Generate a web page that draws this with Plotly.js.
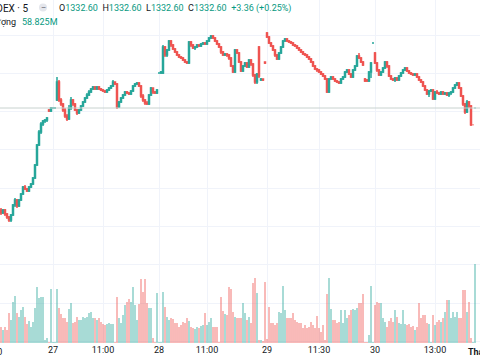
<!DOCTYPE html>
<html>
<head>
<meta charset="utf-8">
<script src="https://cdn.plot.ly/plotly-3.0.1.min.js"></script>
<style>html,body{margin:0;padding:0;background:#fff;}#chart{width:480px;height:360px;}</style>
</head>
<body>
<div id="chart"></div>
<script>
// 5-minute VNINDEX candles (index order)
const open = [
1312.2,1311.6,1312.2,1311.4,1310.8,1310.2,1311.2,1313.2,1314.2,1313.0,
1314.2,1315.4,1316.8,1316.4,1316.0,1316.8,1317.4,1318.6,1321.2,1325.2,
1327.8,1329.4,1330.0,1330.2,1332.2,1332.0,1332.6,1332.6,1334.2,1337.8,
1334.2,1333.4,1332.2,1331.0,1330.4,1332.6,1334.2,1333.4,1332.2,1331.6,
1332.2,1333.0,1333.8,1334.6,1335.2,1335.8,1336.4,1336.8,1336.4,1336.8,
1336.4,1336.2,1336.0,1335.8,1336.2,1336.6,1337.0,1337.8,1337.4,1332.8,
1333.8,1334.6,1335.2,1335.8,1335.6,1335.4,1336.0,1337.0,1337.4,1337.6,
1337.0,1335.0,1334.2,1333.6,1333.4,1335.2,1336.6,1335.8,1335.6,1339.6,
1339.6,1339.6,1344.8,1343.2,1344.2,1346.0,1345.2,1344.4,1343.8,1343.2,
1342.8,1342.6,1342.2,1341.8,1341.6,1345.8,1345.2,1344.6,1344.8,1345.2,
1345.0,1345.4,1345.6,1345.4,1346.0,1346.6,1347.0,1346.6,1346.0,1345.4,
1344.8,1343.8,1343.2,1343.4,1343.2,1342.6,1341.0,1339.8,1344.2,1343.6,
1341.8,1340.0,1341.0,1341.6,1340.8,1342.2,1341.4,1339.2,1337.8,1344.8,
1338.2,1338.4,1341.8,1347.6,1346.8,1345.6,1345.0,1344.2,1343.2,1342.4,
1343.6,1344.8,1346.0,1346.4,1346.0,1345.8,1345.6,1345.2,1345.0,1344.6,
1344.2,1343.8,1343.4,1343.2,1342.8,1342.4,1341.8,1341.0,1340.4,1340.2,
1339.8,1339.4,1339.0,1338.4,1335.8,1338.4,1338.8,1338.4,1338.0,1337.8,
1337.6,1338.4,1338.8,1339.8,1340.2,1339.4,1338.8,1340.2,1341.0,1343.0,
1342.6,1341.8,1338.4,1338.2,1338.0,1339.8,1345.6,1343.6,1341.6,1340.2,
1339.2,1339.8,1340.6,1341.8,1341.0,1339.0,1338.4,1338.2,1338.6,1338.2,
1339.0,1339.6,1340.2,1340.6,1340.0,1339.6,1339.4,1339.2,1339.4,1338.8,
1338.2,1337.8,1337.0,1336.2,1335.4,1336.0,1336.2,1334.4,1335.8,1335.6,
1335.4,1335.8,1335.4,1335.6,1335.2,1335.6,1335.8,1336.6,1337.2,1337.6,
1336.6,1335.0,1333.4,1331.8,1333.8,1333.0,1329.24,1332.6];
const high = [
1312.6,1312.4,1312.4,1311.6,1311.0,1311.4,1313.4,1314.6,1314.4,1314.4,
1315.6,1317.0,1317.2,1316.6,1317.0,1317.6,1318.8,1321.4,1325.4,1328.2,
1329.8,1330.2,1330.4,1330.8,1332.4,1332.8,1332.8,1332.8,1338.8,1338.2,
1334.6,1333.6,1332.6,1331.4,1333.2,1334.8,1334.4,1333.6,1332.4,1332.4,
1333.2,1334.0,1334.8,1335.6,1336.2,1336.6,1337.0,1337.0,1337.0,1337.0,
1336.6,1336.4,1336.2,1336.4,1336.8,1337.2,1338.2,1337.8,1337.6,1334.0,
1334.8,1335.4,1336.0,1336.0,1335.8,1336.2,1337.2,1337.6,1337.8,1337.8,
1337.2,1335.4,1334.4,1334.0,1335.4,1336.8,1336.6,1336.0,1336.4,1339.8,
1340.0,1345.2,1345.0,1344.4,1346.2,1346.2,1345.4,1344.6,1344.0,1343.4,
1343.0,1342.8,1342.4,1342.0,1346.0,1346.0,1345.4,1345.0,1345.4,1345.4,
1345.6,1345.8,1345.8,1346.2,1346.8,1347.2,1347.2,1346.8,1346.2,1345.6,
1345.0,1344.0,1343.6,1343.6,1343.4,1342.8,1341.2,1344.4,1344.4,1343.8,
1342.0,1341.2,1341.8,1341.8,1342.4,1342.4,1341.6,1339.4,1339.6,1345.0,
1338.6,1338.4,1341.8,1347.8,1347.0,1345.8,1345.2,1344.4,1343.4,1343.8,
1345.0,1346.2,1346.6,1346.6,1346.2,1346.0,1345.8,1345.4,1345.2,1344.8,
1344.4,1344.0,1343.6,1343.4,1343.0,1342.6,1342.0,1341.2,1340.6,1340.4,
1340.0,1339.6,1339.2,1338.6,1338.6,1339.0,1339.0,1338.6,1338.2,1338.0,
1338.6,1339.0,1340.0,1340.4,1340.4,1339.6,1340.4,1341.2,1343.2,1343.6,
1342.8,1342.0,1338.6,1338.4,1340.0,1341.8,1345.8,1343.8,1341.8,1340.4,
1340.0,1340.8,1342.0,1342.0,1341.2,1339.2,1338.6,1338.8,1338.8,1339.2,
1339.8,1340.4,1340.8,1340.8,1340.2,1339.8,1339.6,1339.6,1339.6,1339.0,
1338.4,1338.0,1337.2,1336.4,1336.2,1336.4,1336.4,1336.0,1336.2,1335.8,
1336.0,1336.0,1335.8,1335.8,1335.8,1336.0,1336.8,1337.4,1337.8,1337.8,
1336.8,1335.2,1333.6,1334.2,1334.0,1333.2,1329.24,1332.6];
const low = [
1311.2,1311.4,1311.0,1310.4,1309.8,1309.8,1311.0,1312.8,1312.6,1312.8,
1314.0,1315.2,1316.2,1315.8,1315.8,1316.6,1317.2,1318.4,1321.0,1325.0,
1327.4,1329.0,1329.6,1329.8,1331.8,1331.8,1332.4,1332.4,1334.0,1333.8,
1333.0,1331.8,1330.6,1330.0,1330.2,1332.2,1333.0,1332.0,1331.2,1331.4,
1332.0,1332.8,1333.6,1334.4,1335.0,1335.6,1336.2,1336.2,1336.2,1336.2,
1336.0,1335.8,1335.6,1335.6,1336.0,1336.4,1336.8,1337.2,1332.4,1332.6,
1333.6,1334.4,1335.0,1335.4,1335.2,1335.2,1335.8,1336.8,1337.2,1336.8,
1334.6,1333.8,1333.2,1333.2,1333.2,1335.0,1335.4,1335.4,1335.4,1339.4,
1339.4,1339.4,1342.8,1342.8,1344.0,1344.8,1344.2,1343.6,1343.0,1342.6,
1342.4,1342.0,1341.6,1341.4,1341.4,1344.8,1344.4,1344.2,1344.6,1344.8,
1344.8,1345.2,1345.2,1345.2,1345.8,1346.4,1346.4,1345.8,1345.2,1344.6,
1343.4,1343.0,1343.0,1342.8,1342.2,1340.8,1339.6,1339.6,1343.4,1341.6,
1339.8,1339.8,1340.8,1340.6,1340.6,1341.0,1338.8,1337.4,1337.4,1338.6,
1338.0,1338.0,1341.4,1346.6,1345.4,1344.8,1344.0,1342.8,1342.2,1342.2,
1343.4,1344.6,1345.8,1345.8,1345.6,1345.4,1345.0,1344.8,1344.4,1344.0,
1343.6,1343.2,1343.0,1342.6,1342.2,1341.6,1340.8,1340.2,1339.8,1339.6,
1339.2,1338.8,1338.2,1335.6,1335.6,1338.2,1338.2,1337.8,1337.6,1337.4,
1337.4,1338.2,1338.6,1339.6,1339.2,1338.6,1338.6,1340.0,1340.8,1342.4,
1341.6,1341.0,1337.8,1337.8,1337.8,1338.6,1345.4,1341.4,1339.8,1339.0,
1339.0,1339.6,1340.4,1340.6,1338.8,1338.2,1338.0,1337.8,1338.0,1338.0,
1338.8,1339.4,1340.0,1339.8,1339.4,1339.2,1339.0,1339.0,1338.6,1338.0,
1337.6,1336.8,1336.0,1335.2,1334.8,1335.8,1334.2,1334.2,1335.4,1335.2,
1335.2,1335.2,1335.2,1335.0,1334.8,1335.2,1335.6,1336.4,1337.0,1336.4,
1334.8,1333.0,1331.4,1331.6,1332.6,1329.0,1329.24,1332.6];
const close = [
1311.6,1312.2,1311.4,1310.8,1310.2,1311.2,1313.2,1314.2,1313.0,1314.2,
1315.4,1316.8,1316.4,1316.0,1316.8,1317.4,1318.6,1321.2,1325.2,1327.8,
1329.4,1330.0,1330.2,1330.6,1332.0,1332.6,1332.6,1332.6,1337.8,1334.2,
1333.4,1332.2,1331.0,1330.4,1332.6,1334.2,1333.4,1332.2,1331.6,1332.2,
1333.0,1333.8,1334.6,1335.2,1335.8,1336.4,1336.8,1336.4,1336.8,1336.4,
1336.2,1336.0,1335.8,1336.2,1336.6,1337.0,1337.8,1337.4,1332.8,1333.8,
1334.6,1335.2,1335.8,1335.6,1335.4,1336.0,1337.0,1337.4,1337.6,1337.0,
1335.0,1334.2,1333.6,1333.4,1335.2,1336.6,1335.8,1335.6,1336.2,1339.6,
1339.8,1344.8,1343.2,1344.2,1346.0,1345.2,1344.4,1343.8,1343.2,1342.8,
1342.6,1342.2,1341.8,1341.6,1345.8,1345.2,1344.6,1344.8,1345.2,1345.0,
1345.4,1345.6,1345.4,1346.0,1346.6,1347.0,1346.6,1346.0,1345.4,1344.8,
1343.8,1343.2,1343.4,1343.2,1342.6,1341.0,1339.8,1344.2,1343.6,1341.8,
1340.0,1341.0,1341.6,1340.8,1342.2,1341.4,1339.2,1337.8,1339.4,1339.0,
1338.4,1338.2,1341.6,1346.8,1345.6,1345.0,1344.2,1343.2,1342.4,1343.6,
1344.8,1346.0,1346.4,1346.0,1345.8,1345.6,1345.2,1345.0,1344.6,1344.2,
1343.8,1343.4,1343.2,1342.8,1342.4,1341.8,1341.0,1340.4,1340.2,1339.8,
1339.4,1339.0,1338.4,1335.8,1338.4,1338.8,1338.4,1338.0,1337.8,1337.6,
1338.4,1338.8,1339.8,1340.2,1339.4,1338.8,1340.2,1341.0,1343.0,1342.6,
1341.8,1341.2,1338.0,1338.0,1339.8,1341.6,1345.6,1341.6,1340.2,1339.2,
1339.8,1340.6,1341.8,1341.0,1339.0,1338.4,1338.2,1338.6,1338.2,1339.0,
1339.6,1340.2,1340.6,1340.0,1339.6,1339.4,1339.2,1339.4,1338.8,1338.2,
1337.8,1337.0,1336.2,1335.4,1336.0,1336.2,1334.4,1335.8,1335.6,1335.4,
1335.8,1335.4,1335.6,1335.2,1335.6,1335.8,1336.6,1337.2,1337.6,1336.6,
1335.0,1333.4,1331.8,1333.8,1333.0,1329.24,1329.24,1332.6];
// volume in millions of shares
const volume = [
11.9,9.7,11.9,9.7,22.3,17.1,30.5,35.0,22.3,19.4,
24.6,26.8,19.4,14.2,16.4,11.9,15.6,26.1,41.7,33.5,
34.3,34.3,2.2,3.7,0.7,40.2,0.7,0.7,40.2,26.1,
21.6,18.6,18.6,15.6,25.3,29.8,14.9,15.6,19.4,17.1,
17.1,19.4,18.6,19.4,22.3,23.1,18.6,18.6,17.1,18.6,
15.6,14.2,13.4,14.2,14.9,14.2,14.2,0.7,34.3,18.6,
14.9,20.9,28.3,30.5,32.8,30.5,41.7,28.3,17.1,29.0,
47.7,38.0,47.7,29.8,26.1,26.1,3.7,0.7,37.2,0.7,
0.7,38.0,26.8,19.4,17.1,18.6,17.9,14.9,14.9,11.9,
13.4,15.6,14.9,18.6,16.4,11.9,11.2,10.4,11.9,11.2,
12.7,13.4,22.3,13.4,15.6,18.6,11.9,11.9,11.9,0.7,
34.3,23.8,21.6,20.9,41.7,40.2,23.1,19.4,18.6,18.6,
18.6,29.8,22.3,17.1,19.4,14.9,44.7,48.4,37.2,2.2,
2.2,1.5,45.4,3.0,26.8,14.9,14.9,13.4,14.9,23.1,
22.3,42.5,24.6,18.6,18.6,18.6,22.3,17.1,15.6,14.9,
14.9,11.2,13.4,11.2,11.9,15.6,13.4,11.2,20.1,11.2,
8.2,13.4,2.2,36.5,48.4,25.3,17.1,17.1,14.9,15.6,
24.6,14.9,24.6,18.6,20.9,24.6,25.3,24.6,26.1,29.8,
29.8,36.5,0.7,0.7,6.0,42.5,0.7,28.3,30.5,29.8,
29.8,18.6,15.6,11.9,16.4,18.6,15.6,24.6,19.4,14.9,
14.2,24.6,14.2,13.4,14.2,11.9,12.7,9.7,11.9,29.8,
18.6,20.9,20.9,14.9,14.2,0.7,20.9,13.4,15.6,17.1,
15.6,18.6,23.1,32.0,32.0,18.6,23.1,19.4,23.1,18.6,
18.6,39.5,39.5,23.1,30.5,3.7,0.7,58.825];
// x-axis labels and the bar index they sit on
const tickIdx  = [26, 51, 79, 103, 133, 159, 187, 217];
const tickText = ["27", "11:00", "28", "11:00", "29", "11:30", "30", "13:00"];

const N = close.length;
const idx = Array.from({length: N}, (_, i) => i);
const UP = "#26a69a", DOWN = "#ef5350";
const volColors = idx.map(i => close[i] >= open[i] ? "rgba(38,166,154,0.5)" : "rgba(239,83,80,0.5)");
const last = N - 1;
const prevClose = close[last - 1];
const chg = close[last] - prevClose;
const pct = chg / prevClose * 100;
const teal = "#089981";
const dark = "#131722";
const f = v => v.toFixed(2);
const ohlcText =
  `<span style="color:${dark}">O</span><span style="color:${teal}">${f(open[last])}</span>  ` +
  `<span style="color:${dark}">H</span><span style="color:${teal}">${f(high[last])}</span>  ` +
  `<span style="color:${dark}">L</span><span style="color:${teal}">${f(low[last])}</span>  ` +
  `<span style="color:${dark}">C</span><span style="color:${teal}">${f(close[last])}</span>  ` +
  `<span style="color:${teal}">+${f(chg)} (+${pct.toFixed(2)}%)</span>`;

const PH = 343; // plot height in px for paper conversions
const py = p => 1 - p / PH;
const px = p => p / 480;

const traces = [
  {type: "bar", x: idx, y: volume, yaxis: "y2", marker: {color: volColors, line: {width: 0}},
   hoverinfo: "skip"},
  {type: "candlestick", x: idx, open: open, high: high, low: low, close: close,
   increasing: {line: {color: UP, width: 1.5}, fillcolor: UP},
   decreasing: {line: {color: DOWN, width: 1.5}, fillcolor: DOWN},
   whiskerwidth: 0, hoverinfo: "skip"}
];

const font = "Roboto, 'Liberation Sans', sans-serif";
const layout = {
  width: 480, height: 360,
  margin: {l: 0, r: 0, t: 0, b: 17},
  paper_bgcolor: "#ffffff", plot_bgcolor: "#ffffff",
  showlegend: false, bargap: 0.2, hovermode: false,
  font: {family: font, color: dark, size: 9},
  xaxis: {range: [-0.5, 239.5], tickmode: "array", tickvals: tickIdx, ticktext: tickText,
          showgrid: true, gridcolor: "#f0f3fa", zeroline: false, showline: false, ticks: "",
          tickfont: {size: 9, color: dark}, rangeslider: {visible: false}, fixedrange: true},
  yaxis: {range: [1285.6, 1354.2], tick0: 1347.2, dtick: 7.66, showgrid: true, gridcolor: "#f0f3fa",
          showticklabels: false, zeroline: false, showline: false, ticks: "", fixedrange: true},
  yaxis2: {overlaying: "y", range: [0, 255.4], showgrid: false, showticklabels: false,
           zeroline: false, showline: false, fixedrange: true},
  shapes: [
    {type: "line", xref: "paper", x0: 0, x1: 1, yref: "y", y0: close[last], y1: close[last],
     line: {color: "#c8d2cf", width: 1}},
    {type: "circle", xref: "paper", yref: "paper", x0: px(39), x1: px(47), y0: py(11.5), y1: py(3.5),
     fillcolor: "#e4e6ec", line: {width: 0}}
  ],
  annotations: [
    {xref: "paper", yref: "paper", x: px(29.5), y: py(8), xanchor: "right", yanchor: "middle",
     text: "VNINDEX · 5", showarrow: false, font: {size: 10, color: dark}},
    {xref: "paper", yref: "paper", x: px(43), y: py(7.5), xanchor: "center", yanchor: "middle",
     text: "–", showarrow: false, font: {size: 8, color: "#50535e"}},
    {xref: "paper", yref: "paper", x: px(57), y: py(8), xanchor: "left", yanchor: "middle",
     text: ohlcText, showarrow: false, font: {size: 9}},
    {xref: "paper", yref: "paper", x: px(17.5), y: py(22), xanchor: "right", yanchor: "middle",
     text: "Khối lượng", showarrow: false, font: {size: 9, color: dark}},
    {xref: "paper", yref: "paper", x: px(20), y: py(22), xanchor: "left", yanchor: "middle",
     text: (volume[last]).toFixed(3) + "M", showarrow: false, font: {size: 9, color: teal}},
    {xref: "paper", yref: "paper", x: px(4), y: py(352), xanchor: "right", yanchor: "middle",
     text: "13:00", showarrow: false, font: {size: 9, color: dark}},
    {xref: "paper", yref: "paper", x: px(466), y: py(352), xanchor: "left", yanchor: "middle",
     text: "<b>Tháng 5</b>", showarrow: false, font: {size: 9, color: dark}}
  ]
};

Plotly.newPlot("chart", traces, layout, {displayModeBar: false, staticPlot: true});
</script>
</body>
</html>
